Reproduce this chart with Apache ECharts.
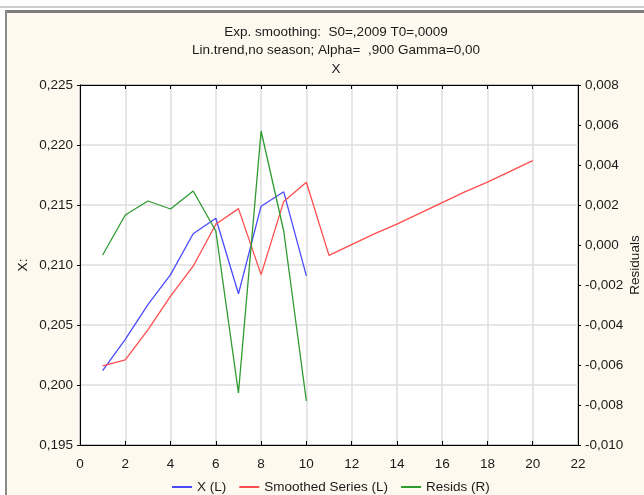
<!DOCTYPE html>
<html>
<head>
<meta charset="utf-8">
<script src="https://cdn.jsdelivr.net/npm/echarts@6/dist/echarts.min.js"></script>
<style>
html,body{margin:0;padding:0;background:#fff;}
#c{width:644px;height:495px;}
</style>
</head>
<body>
<div id="c"></div>
<script>
var xValues = [1,2,3,4,5,6,7,8,9,10];
var xSeries = [0.2012,0.2038,0.2067,0.2092,0.2126,0.2139,0.2076,0.2149,0.2161,0.2091];
var smoothX = [1,2,3,4,5,6,7,8,9,10,11,12,13,14,15,16,17,18,19,20];
var smoothed = [0.2016,0.2021,0.2046,0.2074,0.2099,0.2134,0.2147,0.2092,0.2153,0.2169,
                0.2108,0.2117,0.2126,0.2134,0.2143,0.2152,0.2161,0.2169,0.2178,0.2187];
var resids = [-0.0005,0.0015,0.0022,0.0018,0.0027,0.0007,-0.0074,0.0057,0.0007,-0.0078];
var titleLines = ['Exp. smoothing:  S0=,2009 T0=,0009','Lin.trend,no season; Alpha=  ,900 Gamma=0,00','X'];
var legendNames = ['X (L)','Smoothed Series (L)','Resids (R)'];

function pairs(xs, ys){ return xs.map(function(x,i){ return [x, ys[i]]; }); }
function fmt(v){ return v.toFixed(3).replace('.', ','); }

var FONT = 'Liberation Sans, Arial, sans-serif';
var FS = 13.5;
var TXT = '#1a1a1a';
var chart = echarts.init(document.getElementById('c'), null, {renderer:'canvas'});
chart.setOption({
  animation:false,
  backgroundColor:'#ffffff',
  graphic:[
    {type:'rect', shape:{x:6,y:13,width:640,height:484}, style:{fill:'#fdf9ee'}, z:-10},
    {type:'line', shape:{x1:0,y1:7,x2:644,y2:7}, style:{stroke:'#9a9a9a',lineWidth:1}, z:-9},
    {type:'rect', shape:{x:5,y:10,width:640,height:3}, style:{fill:'#7d7d7d'}, z:-9},
    {type:'rect', shape:{x:5,y:10,width:2,height:490}, style:{fill:'#8a8a8a'}, z:-9}
  ],
  title:{
    text:titleLines.join('\n'),
    left:331, top:18, textAlign:'center',
    textStyle:{fontFamily:FONT,fontSize:FS,fontWeight:'normal',color:TXT,lineHeight:18.5,align:'center'}
  },
  legend:{
    data:legendNames,
    bottom:-4, left:167,
    itemWidth:20, itemHeight:2, itemGap:13,
    icon:'rect',
    textStyle:{fontFamily:FONT,fontSize:FS,color:TXT}
  },
  grid:{
    left:80, right:66, top:85, bottom:50,
    outerBoundsMode:'none',
    containLabel:false,
    show:true, backgroundColor:'#ffffff', borderColor:'#000', borderWidth:1
  },
  xAxis:[{
    type:'value', min:0, max:22, interval:2, position:'bottom',
    axisLine:{show:true,onZero:false,lineStyle:{color:'#000',width:1}},
    axisTick:{show:true,inside:true,length:4,lineStyle:{color:'#000'}},
    axisLabel:{fontFamily:FONT,fontSize:FS,color:TXT,margin:12},
    splitLine:{show:true,lineStyle:{color:'#dedede',width:1.5}}
  },{
    type:'value', min:0, max:22, interval:2, position:'top',
    axisLine:{show:true,onZero:false,lineStyle:{color:'#000',width:1}},
    axisTick:{show:true,inside:true,length:4,lineStyle:{color:'#000'}},
    axisLabel:{show:false},
    splitLine:{show:false}
  }],
  yAxis:[{
    type:'value', min:0.195, max:0.225, interval:0.005, position:'left',
    name:'X:', nameLocation:'middle', nameGap:50, nameRotate:90, nameMoveOverlap:false,
    nameTextStyle:{fontFamily:FONT,fontSize:FS,color:TXT},
    axisLine:{show:true,onZero:false,lineStyle:{color:'#000',width:1}},
    axisTick:{show:true,inside:false,length:3,lineStyle:{color:'#000'}},
    axisLabel:{fontFamily:FONT,fontSize:FS,color:TXT,margin:7,formatter:fmt},
    splitLine:{show:true,lineStyle:{color:'#dedede',width:1.5}}
  },{
    type:'value', min:-0.010, max:0.008, interval:0.002, position:'right',
    name:'Residuals', nameLocation:'middle', nameGap:50, nameRotate:90, nameMoveOverlap:false,
    nameTextStyle:{fontFamily:FONT,fontSize:FS,color:TXT},
    axisLine:{show:true,onZero:false,lineStyle:{color:'#000',width:1}},
    axisTick:{show:true,inside:false,length:3,lineStyle:{color:'#000'}},
    axisLabel:{fontFamily:FONT,fontSize:FS,color:TXT,margin:7,formatter:fmt},
    splitLine:{show:false}
  }],
  series:[{
    name:legendNames[0], type:'line', xAxisIndex:0, yAxisIndex:0,
    data:pairs(xValues,xSeries), symbol:'none',
    lineStyle:{color:'#4a4aff',width:1.3}, itemStyle:{color:'#4a4aff'}
  },{
    name:legendNames[1], type:'line', xAxisIndex:0, yAxisIndex:0,
    data:pairs(smoothX,smoothed), symbol:'none',
    lineStyle:{color:'#ff4c4c',width:1.3}, itemStyle:{color:'#ff4c4c'}
  },{
    name:legendNames[2], type:'line', xAxisIndex:0, yAxisIndex:1,
    data:pairs(xValues,resids), symbol:'none',
    lineStyle:{color:'#2f9a2f',width:1.3}, itemStyle:{color:'#2f9a2f'}
  }]
});
</script>
</body>
</html>
